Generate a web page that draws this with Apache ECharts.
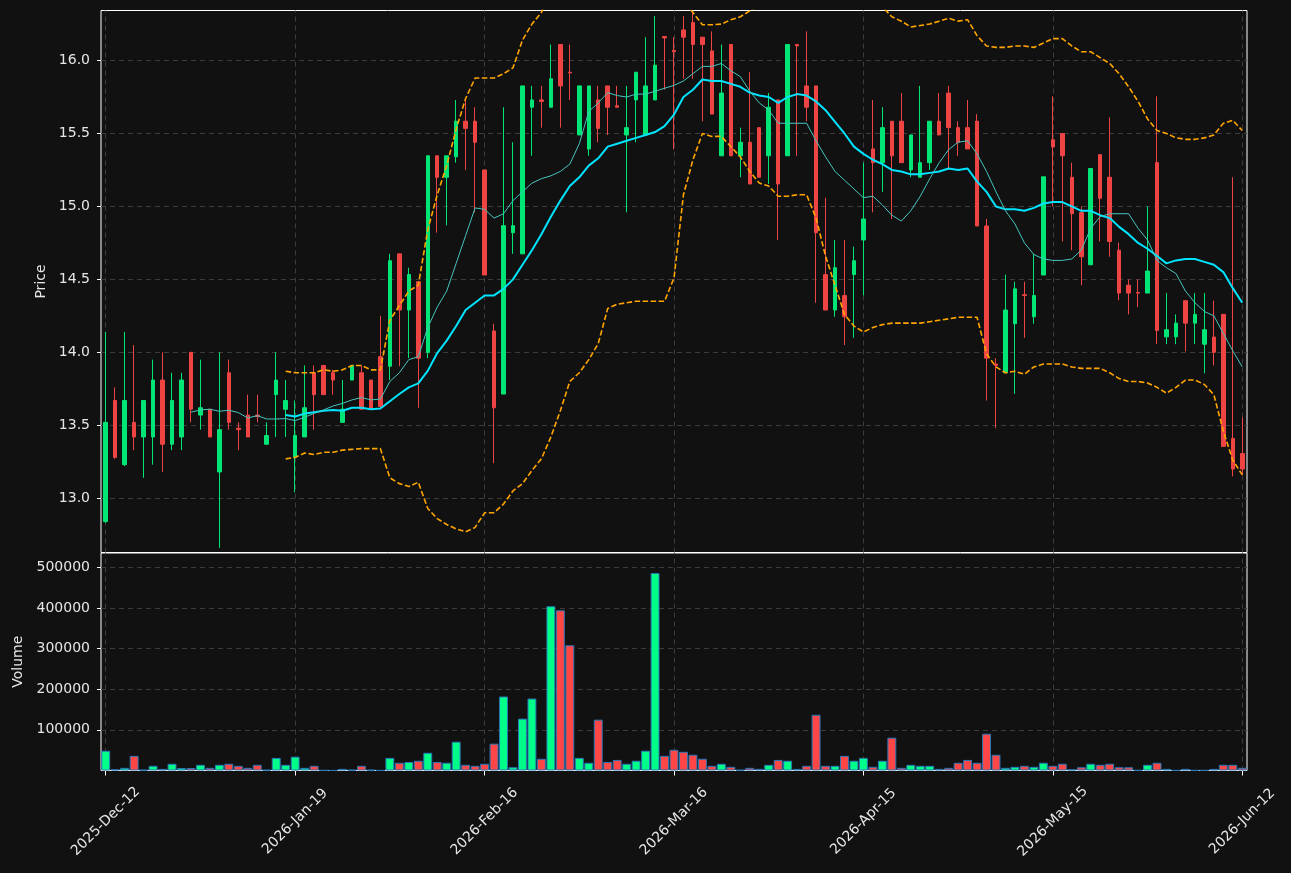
<!DOCTYPE html>
<html>
<head>
<meta charset="utf-8">
<script src="https://cdn.jsdelivr.net/npm/echarts@6/dist/echarts.min.js"></script>
<style>
html,body{margin:0;padding:0;background:#111111;}
#chart{width:1291px;height:873px;}
</style>
</head>
<body>
<div id="chart"></div>
<script>
// ---------------- data ----------------
const tickLabels = ['2025-Dec-12','2026-Jan-19','2026-Feb-16','2026-Mar-16','2026-Apr-15','2026-May-15','2026-Jun-12'];
const tickEvery = 20;

const open = [12.84,13.67,13.23,13.52,13.42,13.42,13.81,13.37,13.42,14.00,
13.57,13.61,13.18,13.86,13.48,13.57,13.57,13.37,13.71,13.61,
13.28,13.42,13.86,13.91,13.86,13.52,13.81,13.86,13.81,13.97,
13.905,14.675,14.29,14.484,14.00,15.347,15.20,15.34,15.584,15.584,
15.25,14.146,13.714,14.82,14.675,15.68,15.73,15.68,16.11,15.92,
15.49,15.394,15.73,15.826,15.69,15.49,15.73,15.49,15.73,16.165,
16.07,16.21,16.26,16.16,16.066,15.347,16.11,15.347,15.44,15.54,
15.347,15.73,15.347,16.11,15.826,15.826,14.533,14.29,14.389,14.533,
14.77,15.394,15.30,15.584,15.584,15.25,15.20,15.30,15.584,15.777,
15.54,15.54,15.584,14.866,13.92,13.86,14.196,14.395,14.244,14.53,
15.457,15.50,15.20,14.958,14.60,15.355,15.20,14.70,14.46,14.41,
14.406,15.30,14.106,14.106,14.354,14.20,14.056,14.105,14.26,13.41,
13.306];

const high = [14.14,13.76,14.14,14.05,13.67,13.95,14.00,13.86,13.86,14.00,
13.95,13.61,14.00,13.95,13.52,13.71,13.71,13.52,14.00,13.81,
13.67,13.91,13.91,13.91,13.88,13.81,13.91,13.91,13.81,14.25,
14.675,14.675,14.58,14.484,15.347,15.347,15.347,15.73,15.73,15.68,
15.25,14.196,15.68,15.44,15.826,15.826,15.826,16.11,16.11,16.11,
15.826,15.826,15.826,15.826,15.826,15.826,15.92,16.16,16.305,16.165,
16.16,16.305,16.34,16.16,16.20,16.11,16.11,15.54,15.92,15.54,
15.777,15.73,16.11,16.11,16.20,15.826,15.06,14.77,14.77,14.724,
15.30,15.73,15.68,15.584,15.777,15.49,15.826,15.584,15.777,15.826,
15.584,15.73,15.633,14.914,13.96,14.533,14.484,14.484,14.675,15.203,
15.755,15.50,15.30,15.00,15.26,15.355,15.61,14.753,14.50,14.50,
15.00,15.755,14.406,14.26,14.354,14.406,14.406,14.354,14.26,15.20,
13.555];

const low = [12.83,13.27,13.22,13.33,13.14,13.23,13.18,13.33,13.33,13.52,
13.47,13.42,12.66,13.47,13.33,13.42,13.52,13.37,13.42,13.42,
13.04,13.42,13.47,13.71,13.71,13.52,13.81,13.61,13.61,13.61,
13.81,13.905,13.96,13.62,13.96,14.82,14.87,15.30,15.25,14.96,
14.53,13.24,13.714,14.675,14.675,15.347,15.54,15.68,15.54,15.73,
15.49,15.347,15.44,15.49,15.68,14.96,15.44,15.49,15.73,15.80,
15.39,15.875,15.875,15.584,15.633,15.347,15.347,15.20,15.154,15.20,
15.154,14.77,15.347,15.347,15.584,14.34,14.29,14.244,14.05,14.10,
14.39,14.96,15.10,14.914,15.30,15.20,15.20,15.25,15.49,15.25,
15.347,15.394,14.866,13.67,13.48,13.86,13.716,14.10,14.196,14.53,
15.00,14.76,14.70,14.46,14.60,14.76,14.655,14.357,14.26,14.31,
14.406,14.056,14.056,14.056,14.007,14.056,13.856,13.91,13.355,13.15,
13.16];

const close = [13.52,13.28,13.67,13.42,13.67,13.81,13.37,13.67,13.81,13.61,
13.62,13.42,13.47,13.52,13.47,13.42,13.56,13.43,13.81,13.67,
13.43,13.62,13.71,13.71,13.81,13.61,13.91,13.61,13.61,13.63,
14.628,14.29,14.533,13.96,15.347,15.20,15.347,15.584,15.535,15.44,
14.53,13.62,14.868,14.868,15.826,15.73,15.72,15.875,15.826,15.915,
15.826,15.826,15.535,15.68,15.68,15.54,15.92,15.826,15.968,16.155,
16.06,16.16,16.11,16.11,15.633,15.777,15.347,15.44,15.154,15.20,
15.68,15.154,16.11,16.10,15.68,14.82,14.29,14.58,14.244,14.628,
14.914,15.30,15.54,15.347,15.30,15.49,15.30,15.584,15.49,15.54,
15.44,15.394,14.866,13.96,13.91,14.29,14.435,14.389,14.389,15.203,
15.408,15.347,14.95,14.655,15.26,15.056,14.76,14.406,14.406,14.406,
14.557,14.15,14.155,14.20,14.20,14.26,14.155,14.00,13.355,13.20,
13.20];

const volume = [48600,3000,6500,36000,1500,11500,4000,16500,6000,6000,
14000,6500,14000,16500,11500,6500,14000,1500,31000,14000,
34000,6500,11500,500,300,4000,1500,11500,1500,300,
31000,19000,21000,24000,43600,21000,19000,70800,14000,11500,
16500,66000,182000,8000,127600,177000,28800,404000,394000,308000,
31000,19000,125000,21000,26000,16500,24000,48600,485600,36000,
51000,46000,38700,28800,11500,16500,9000,1500,6500,4000,
14000,26000,24000,4000,11500,137000,11500,11500,36000,24000,
31000,9000,24000,80700,6500,14000,11500,11500,4000,6500,
19000,26000,19000,90500,38700,6500,9000,11500,9000,19000,
11500,16500,3000,8000,16500,14000,16500,8000,8000,800,
14000,19000,4000,500,4000,500,500,4000,14000,14000,
6500];

// thin moving average (first value at candle 9)
const maShortStart = 9;
const maShort = [13.59,13.605,13.61,13.596,13.603,13.587,13.55,13.566,13.543,13.543,13.546,
13.532,13.555,13.582,13.605,13.632,13.65,13.674,13.69,13.674,13.68,
13.80,13.86,13.95,13.97,14.17,14.31,14.42,14.61,14.80,14.99,
14.98,14.92,14.95,15.04,15.10,15.16,15.19,15.21,15.24,15.29,
15.43,15.65,15.71,15.78,15.76,15.75,15.77,15.77,15.79,15.81,
15.83,15.86,15.91,15.96,15.96,15.98,15.93,15.89,15.79,15.71,
15.66,15.57,15.57,15.57,15.57,15.45,15.34,15.24,15.18,15.12,
15.06,15.07,15.01,14.94,14.90,14.97,15.07,15.19,15.30,15.39,
15.44,15.45,15.36,15.24,15.10,14.97,14.88,14.75,14.67,14.64,
14.63,14.63,14.64,14.70,14.85,14.93,14.95,14.95,14.95,14.85,
14.77,14.63,14.58,14.54,14.42,14.34,14.28,14.25,14.13,14.01,
13.90];

// thick moving average and bands (first value at candle 19)
const bandStart = 19;
const maLong = [13.57,
13.56,13.58,13.59,13.60,13.605,13.60,13.62,13.62,13.61,13.615,
13.665,13.714,13.76,13.787,13.873,13.995,14.08,14.18,14.29,14.34,
14.39,14.39,14.435,14.50,14.60,14.70,14.81,14.93,15.04,15.14,
15.20,15.28,15.33,15.41,15.43,15.45,15.47,15.49,15.51,15.55,
15.63,15.75,15.80,15.87,15.86,15.86,15.84,15.82,15.78,15.76,
15.75,15.71,15.75,15.77,15.76,15.72,15.66,15.58,15.50,15.41,
15.36,15.32,15.29,15.25,15.24,15.22,15.22,15.23,15.24,15.26,
15.25,15.26,15.17,15.10,15.00,14.98,14.98,14.97,14.99,15.02,
15.03,15.03,15.00,14.97,14.97,14.94,14.92,14.86,14.81,14.75,
14.71,14.66,14.61,14.63,14.64,14.64,14.62,14.60,14.55,14.44,
14.34];

const bandUpper = [13.87,
13.86,13.86,13.86,13.88,13.87,13.88,13.91,13.91,13.88,13.88,
14.22,14.32,14.42,14.46,14.84,15.08,15.28,15.53,15.74,15.88,
15.88,15.88,15.91,15.95,16.14,16.25,16.33,16.45,16.50,16.50,
16.60,16.65,16.65,16.60,16.60,16.60,16.60,16.65,16.70,16.60,
16.50,16.40,16.33,16.245,16.245,16.25,16.28,16.30,16.34,16.38,
16.45,16.50,16.55,16.60,16.60,16.60,16.60,16.60,16.60,16.55,
16.50,16.45,16.37,16.30,16.27,16.23,16.24,16.25,16.27,16.29,
16.27,16.28,16.17,16.10,16.09,16.09,16.10,16.10,16.09,16.12,
16.15,16.15,16.10,16.06,16.06,16.02,15.98,15.91,15.82,15.72,
15.60,15.52,15.50,15.47,15.46,15.46,15.47,15.49,15.57,15.59,
15.52];

const bandLower = [13.27,
13.28,13.31,13.30,13.315,13.315,13.33,13.335,13.34,13.34,13.34,
13.14,13.10,13.08,13.11,12.93,12.86,12.82,12.79,12.77,12.80,
12.90,12.90,12.96,13.05,13.10,13.19,13.27,13.42,13.60,13.80,
13.86,13.95,14.06,14.30,14.33,14.34,14.35,14.35,14.35,14.35,
14.51,15.08,15.32,15.50,15.48,15.48,15.41,15.34,15.24,15.16,
15.14,15.07,15.07,15.08,15.08,14.92,14.66,14.46,14.26,14.18,
14.14,14.17,14.19,14.20,14.20,14.20,14.20,14.21,14.22,14.23,
14.24,14.24,14.24,13.99,13.90,13.86,13.87,13.85,13.90,13.92,
13.92,13.92,13.90,13.89,13.89,13.89,13.86,13.82,13.80,13.80,
13.79,13.76,13.72,13.76,13.81,13.81,13.78,13.71,13.46,13.26,
13.16];

// ---------------- chart ----------------
const categories = close.map((_, i) => String(i));
const pad = (start, arr) => Array(start).fill(null).concat(arr);
const tickIdx = tickLabels.map((_, k) => k * tickEvery);

const FONT = 'DejaVu Sans';
const TXT = '#e6e6e6';
const GRIDC = '#3c3c3c';
const UP = '#00e676', DOWN = '#ef4444';
const VUP = '#00ff88', VDOWN = '#ff4646';

const candleData = open.map((o, i) => [o, close[i], low[i], high[i]]);
const volData = volume.map((v, i) => ({
  value: v,
  itemStyle: { color: close[i] >= open[i] ? VUP : VDOWN }
}));

const vGrid = {
  silent: true, symbol: ['none', 'none'], z: 1,
  label: { show: false }, emphasis: { disabled: true },
  lineStyle: { color: GRIDC, type: [5, 4], width: 1 },
  data: tickIdx.map(i => ({ xAxis: i }))
};

const chart = echarts.init(document.getElementById('chart'), null, { renderer: 'canvas' });
chart.setOption({
  backgroundColor: '#111111',
  animation: false,
  textStyle: { fontFamily: FONT },
  grid: [
    { left: 101, top: 10.5, width: 1146, height: 542, show: true, backgroundColor: '#111111',
      borderColor: '#ffffff', borderWidth: 1, containLabel: false, outerBoundsMode: 'none', z: 0 },
    { left: 101, top: 553, width: 1146, height: 217.5, show: true, backgroundColor: '#111111',
      borderColor: '#ffffff', borderWidth: 1, containLabel: false, outerBoundsMode: 'none', z: 0 }
  ],
  xAxis: [
    { type: 'category', gridIndex: 0, data: categories, boundaryGap: true,
      axisLine: { show: false }, axisTick: { show: false }, axisLabel: { show: false },
      splitLine: { show: false } },
    { type: 'category', gridIndex: 1, data: categories, boundaryGap: true,
      axisLine: { show: false },
      axisTick: { show: true, interval: tickEvery - 1, alignWithLabel: true, length: 5,
        lineStyle: { color: '#ffffff' } },
      axisLabel: { interval: tickEvery - 1, rotate: 45, align: 'center', verticalAlign: 'middle',
        margin: 51, color: TXT, fontSize: 14, fontFamily: FONT, hideOverlap: false,
        formatter: (v, idx) => (idx % tickEvery === 0 ? (tickLabels[idx / tickEvery] || '') : '') },
      splitLine: { show: false } }
  ],
  yAxis: [
    { type: 'value', gridIndex: 0, min: 12.628, max: 16.343, splitNumber: 7,
      minInterval: 0.5, maxInterval: 0.5,
      axisLine: { show: false },
      axisTick: { show: true, length: 4, lineStyle: { color: '#ffffff' } },
      axisLabel: { color: TXT, fontSize: 14, fontFamily: FONT, margin: 11,
        showMinLabel: false, showMaxLabel: false, formatter: v => v.toFixed(1) },
      splitLine: { show: true, showMinLine: false, showMaxLine: false,
        lineStyle: { color: GRIDC, type: [5, 4], width: 1 } },
      name: 'Price', nameLocation: 'middle', nameRotate: 90, nameGap: 48,
      nameTextStyle: { color: TXT, fontSize: 14, fontFamily: FONT } },
    { type: 'value', gridIndex: 1, min: 0, max: 535000, interval: 100000,
      axisLine: { show: false },
      axisTick: { show: true, length: 4, lineStyle: { color: '#ffffff' } },
      axisLabel: { color: TXT, fontSize: 14, fontFamily: FONT, margin: 11,
        showMinLabel: false, showMaxLabel: false, formatter: v => String(v) },
      splitLine: { show: true, showMinLine: false, showMaxLine: false,
        lineStyle: { color: GRIDC, type: [5, 4], width: 1 } },
      name: 'Volume', nameLocation: 'middle', nameRotate: 90, nameGap: 75,
      nameTextStyle: { color: TXT, fontSize: 14, fontFamily: FONT } }
  ],
  series: [
    { type: 'candlestick', name: 'Price', xAxisIndex: 0, yAxisIndex: 0, data: candleData,
      barWidth: 4, z: 2,
      itemStyle: { color: UP, color0: DOWN, borderColor: UP, borderColor0: DOWN, borderWidth: 1 },
      markLine: vGrid },
    { type: 'line', name: 'MA long', xAxisIndex: 0, yAxisIndex: 0, data: pad(bandStart, maLong),
      symbol: 'none', z: 4, lineStyle: { color: '#00e5ff', width: 2 } },
    { type: 'line', name: 'MA short', xAxisIndex: 0, yAxisIndex: 0, data: pad(maShortStart, maShort),
      symbol: 'none', z: 4, lineStyle: { color: '#45c6bf', width: 1 } },
    { type: 'line', name: 'Upper', xAxisIndex: 0, yAxisIndex: 0, data: pad(bandStart, bandUpper),
      symbol: 'none', z: 4, lineStyle: { color: '#ffa500', width: 1.6, type: [5.5, 2.5] } },
    { type: 'line', name: 'Lower', xAxisIndex: 0, yAxisIndex: 0, data: pad(bandStart, bandLower),
      symbol: 'none', z: 4, lineStyle: { color: '#ffa500', width: 1.6, type: [5.5, 2.5] } },
    { type: 'bar', name: 'Volume', xAxisIndex: 1, yAxisIndex: 1, data: volData,
      barCategoryGap: '6%', z: 2,
      itemStyle: { borderColor: '#2a78b8', borderWidth: 1 },
      markLine: vGrid }
  ]
});
</script>
</body>
</html>
